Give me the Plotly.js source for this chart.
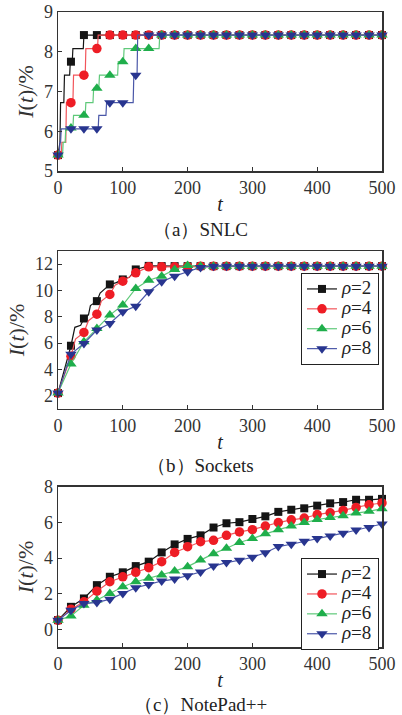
<!DOCTYPE html>
<html><head><meta charset="utf-8">
<script src="https://cdn.plot.ly/plotly-3.0.1.min.js"></script>
<style>html,body{margin:0;padding:0;background:#fff}#chart{width:402px;height:715px}</style>
</head><body><div id="chart"></div>
<script>
// ---------- shared ----------
const tMarks = [0,20,40,60,80,100,120,140,160,180,200,220,240,260,280,300,320,340,360,380,400,420,440,460,480,500];
const seriesNames = ['ρ=2','ρ=4','ρ=6','ρ=8'];

// ---------- (a) SNLC : step lines + marker values ----------
const snlcRho2LineT = [0,3,4,9,10,18,19,22,23,39,40,500];
const snlcRho2LineY = [5.4,5.72,6.72,6.72,7.41,7.41,7.75,7.75,8.08,8.08,8.42,8.42];
const snlcRho2Marks = [5.4,7.75,8.42,8.42,8.42,8.42,8.42,8.42,8.42,8.42,8.42,8.42,8.42,8.42,8.42,8.42,8.42,8.42,8.42,8.42,8.42,8.42,8.42,8.42,8.42,8.42];

const snlcRho4LineT = [0,5,6,12,13,23,24,42,43,61,62,500];
const snlcRho4LineY = [5.4,5.4,5.72,5.72,6.72,6.72,7.41,7.41,8.08,8.08,8.42,8.42];
const snlcRho4Marks = [5.4,6.72,7.41,8.08,8.42,8.42,8.42,8.42,8.42,8.42,8.42,8.42,8.42,8.42,8.42,8.42,8.42,8.42,8.42,8.42,8.42,8.42,8.42,8.42,8.42,8.42];

const snlcRho6LineT = [0,7,8,11,12,23,24,42,43,54,55,63,64,92,93,101,102,156,157,500];
const snlcRho6LineY = [5.4,5.4,5.72,5.72,6.08,6.08,6.4,6.4,6.72,6.72,7.08,7.08,7.41,7.41,7.75,7.75,8.08,8.08,8.42,8.42];
const snlcRho6Marks = [5.4,6.08,6.4,7.08,7.41,7.75,8.08,8.08,8.42,8.42,8.42,8.42,8.42,8.42,8.42,8.42,8.42,8.42,8.42,8.42,8.42,8.42,8.42,8.42,8.42,8.42];

const snlcRho8LineT = [0,2,3,4,5,62,63,74,75,116,117,122,123,500];
const snlcRho8LineY = [5.4,5.4,5.72,5.72,6.06,6.06,6.4,6.4,6.72,6.72,7.41,7.41,8.42,8.42];
const snlcRho8Marks = [5.4,6.06,6.06,6.06,6.72,6.72,7.41,8.42,8.42,8.42,8.42,8.42,8.42,8.42,8.42,8.42,8.42,8.42,8.42,8.42,8.42,8.42,8.42,8.42,8.42,8.42];

// ---------- (b) Sockets : marker values + extra line points ----------
const sockRho2Marks = [2.2,5.8,7.87,9.19,10.46,10.84,11.6,11.87,11.85,11.85,11.85,11.85,11.85,11.85,11.85,11.85,11.85,11.85,11.85,11.85,11.85,11.85,11.85,11.85,11.85,11.85];
const sockRho2ExtraT = [26,35,47,50,65,70,90,110];
const sockRho2ExtraY = [7.2,7.35,8.15,8.85,9.8,10.0,10.6,11.0];
const sockRho4Marks = [2.2,5.0,6.81,8.2,9.7,10.71,11.34,11.8,11.8,11.8,11.82,11.85,11.85,11.85,11.85,11.85,11.85,11.85,11.85,11.85,11.85,11.85,11.85,11.85,11.85,11.85];
const sockRho4ExtraT = [27,47,67,88];
const sockRho4ExtraY = [6.3,7.7,9.2,10.4];
const sockRho6Marks = [2.2,4.41,6.1,7.11,8.13,8.89,10.15,10.78,11.09,11.6,11.9,11.85,11.85,11.85,11.85,11.85,11.85,11.85,11.85,11.85,11.85,11.85,11.85,11.85,11.85,11.85];
const sockRho6ExtraT = [];
const sockRho6ExtraY = [];
const sockRho8Marks = [2.2,5.16,5.97,6.99,7.49,8.38,8.81,9.9,10.66,11.09,11.42,11.75,11.85,11.85,11.85,11.85,11.85,11.85,11.85,11.85,11.85,11.85,11.85,11.85,11.85,11.85];
const sockRho8ExtraT = [];
const sockRho8ExtraY = [];

// ---------- (c) NotePad++ : marker values ----------
const npRho2Marks = [0.51,1.26,1.73,2.48,2.95,3.2,3.55,3.8,4.32,4.77,5.08,5.28,5.72,5.96,6.02,6.2,6.35,6.6,6.72,6.8,6.95,7.08,7.15,7.28,7.28,7.33];
const npRho4Marks = [0.5,1.13,1.54,2.14,2.67,2.95,3.2,3.46,3.8,4.32,4.64,4.92,5.0,5.28,5.47,5.6,5.8,6.0,6.15,6.25,6.45,6.55,6.68,6.85,7.0,7.1];
const npRho6Marks = [0.5,0.75,1.35,1.64,2.01,2.39,2.67,2.86,3.05,3.27,3.52,3.89,4.25,4.55,4.88,5.1,5.37,5.6,5.8,6.0,6.17,6.28,6.38,6.53,6.63,6.78];
const npRho8Marks = [0.5,1.07,1.45,1.5,1.69,2.01,2.33,2.52,2.71,2.82,3.01,3.22,3.55,3.75,3.88,4.05,4.3,4.65,4.78,4.95,5.1,5.25,5.4,5.58,5.72,5.92];

// ---------- styles ----------
const styles = [
  {mc:'#151515', lc:'#151515', sym:'square', size:8},
  {mc:'#ee1d25', lc:'#f2555b', sym:'circle', size:9.5},
  {mc:'#1fae4b', lc:'#5fc97a', sym:'triangle-up', size:10},
  {mc:'#28358f', lc:'#4a57a8', sym:'triangle-down', size:10}
];
const FONT = 'Liberation Serif, DejaVu Serif, serif';
const legendLabel = n => '<span style="font-size:19px"><i>' + n.charAt(0) + '</i>' + n.slice(1) + '</span>';

const traces = [];
// (a)
const aLines = [[snlcRho2LineT,snlcRho2LineY],[snlcRho4LineT,snlcRho4LineY],[snlcRho6LineT,snlcRho6LineY],[snlcRho8LineT,snlcRho8LineY]];
const aMarks = [snlcRho2Marks,snlcRho4Marks,snlcRho6Marks,snlcRho8Marks];
aLines.forEach((ln,i)=>{
  traces.push({x:ln[0], y:ln[1], xaxis:'x', yaxis:'y', mode:'lines', showlegend:false,
    line:{color:styles[i].lc, width:1.2}, hoverinfo:'skip'});
  traces.push({x:tMarks, y:aMarks[i], xaxis:'x', yaxis:'y', mode:'markers', showlegend:false, cliponaxis:false,
    marker:{color:styles[i].mc, symbol:styles[i].sym, size:styles[i].size, line:{width:0}}});
});

// helper: merge marker points with extra line points, markers only on mark points
function merged(marks, exT, exY){
  const pts = tMarks.map((t,k)=>({t:t, y:marks[k], m:true}));
  exT.forEach((t,k)=>pts.push({t:t, y:exY[k], m:false}));
  pts.sort((a,b)=>a.t-b.t);
  return pts;
}
// (b)
const bSets = [[sockRho2Marks,sockRho2ExtraT,sockRho2ExtraY],[sockRho4Marks,sockRho4ExtraT,sockRho4ExtraY],
               [sockRho6Marks,sockRho6ExtraT,sockRho6ExtraY],[sockRho8Marks,sockRho8ExtraT,sockRho8ExtraY]];
bSets.forEach((s,i)=>{
  const pts = merged(s[0],s[1],s[2]);
  traces.push({x:pts.map(p=>p.t), y:pts.map(p=>p.y), xaxis:'x2', yaxis:'y2', mode:'lines+markers',
    name:legendLabel(seriesNames[i]), legend:'legend', cliponaxis:false,
    line:{color:styles[i].lc, width:1.2},
    marker:{color:pts.map(p=>p.m?styles[i].mc:'rgba(0,0,0,0)'), symbol:styles[i].sym, size:styles[i].size, line:{width:0}}});
});
// (c)
const cSets = [npRho2Marks,npRho4Marks,npRho6Marks,npRho8Marks];
cSets.forEach((s,i)=>{
  traces.push({x:tMarks, y:s, xaxis:'x3', yaxis:'y3', mode:'lines+markers',
    name:legendLabel(seriesNames[i]), legend:'legend2', cliponaxis:false,
    line:{color:styles[i].lc, width:1.2},
    marker:{color:styles[i].mc, symbol:styles[i].sym, size:styles[i].size, line:{width:0}}});
});

function xax(anchor){
  return {anchor:anchor, domain:[0,1], range:[0,500], dtick:100, tick0:0, ticks:'inside', ticklen:4, tickwidth:1,
    tickcolor:'#333', showline:true, linecolor:'#333', linewidth:1.5, mirror:true, showgrid:false, zeroline:false,
    tickfont:{family:FONT, size:18, color:'#333'},
    title:{text:'<i>t</i>', font:{family:FONT, size:20, color:'#222'}, standoff:0}};
}
function yax(anchor, dom, rng, dt){
  return {anchor:anchor, domain:dom, range:rng, dtick:dt, tick0:0, ticks:'inside', ticklen:4, tickwidth:1,
    tickcolor:'#333', showline:true, linecolor:'#333', linewidth:1.5, mirror:true, showgrid:false, zeroline:false,
    tickfont:{family:FONT, size:18, color:'#333'},
    title:{text:'<i>I</i>(<i>t</i>)/%', font:{family:FONT, size:22, color:'#333'}, standoff:4}};
}
const legendBase = {xanchor:'right', yanchor:'top', x:0.9907, bgcolor:'#fff', bordercolor:'#222', borderwidth:1,
  font:{family:FONT, size:13, color:'#222'}, tracegroupgap:0, itemwidth:30};

const layout = {
  width:402, height:715, margin:{l:58, r:20, t:12, b:68},
  font:{family:FONT},
  paper_bgcolor:'#fff', plot_bgcolor:'#fff',
  xaxis:xax('y'), yaxis:yax('x',[0.7496,1],[5,9],1),
  xaxis2:xax('y2'), yaxis2:yax('x2',[0.375,0.6236],[1,13],2),
  xaxis3:xax('y3'), yaxis3:yax('x3',[0,0.252],[-1,8],2),
  legend:Object.assign({y:0.589}, legendBase),
  legend2:Object.assign({y:0.140}, legendBase),
  annotations:[
    {text:'（a）SNLC', xref:'paper', yref:'paper', x:0.441, y:0.6567, showarrow:false, xanchor:'center', yanchor:'middle', font:{family:FONT, size:19, color:'#222'}},
    {text:'（b）Sockets', xref:'paper', yref:'paper', x:0.441, y:0.2866, showarrow:false, xanchor:'center', yanchor:'middle', font:{family:FONT, size:19, color:'#222'}},
    {text:'（c）NotePad++', xref:'paper', yref:'paper', x:0.441, y:-0.0900, showarrow:false, xanchor:'center', yanchor:'middle', font:{family:FONT, size:19, color:'#222'}}
  ],
  showlegend:true
};
Plotly.newPlot('chart', traces, layout, {displayModeBar:false, staticPlot:true});
</script></body></html>
